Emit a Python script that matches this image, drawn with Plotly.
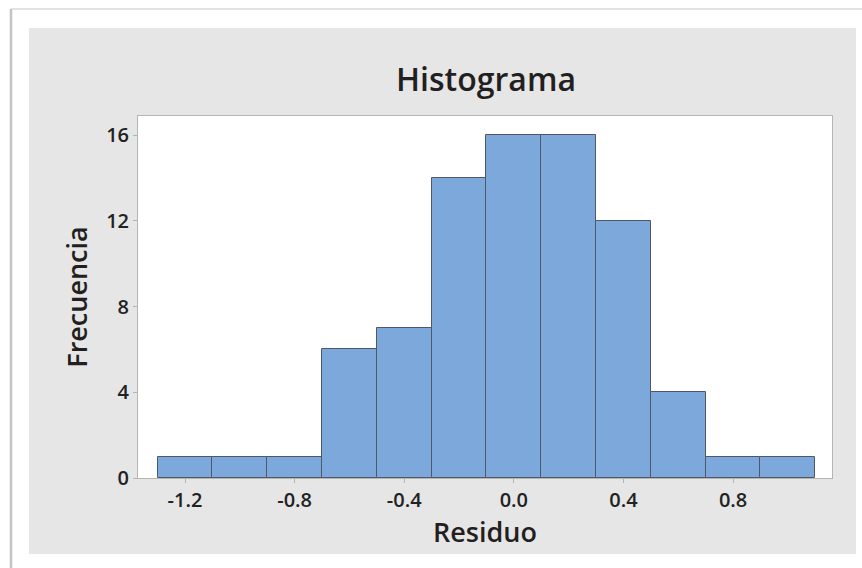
import plotly.graph_objects as go

# Data
bin_centers = [-1.2, -1.0, -0.8, -0.6, -0.4, -0.2, 0.0, 0.2, 0.4, 0.6, 0.8, 1.0]
frequencies = [1, 1, 1, 6, 7, 14, 16, 16, 12, 4, 1, 1]
bin_width = 0.2
x_tick_vals = [-1.2, -0.8, -0.4, 0.0, 0.4, 0.8]
x_tick_text = ["-1.2", "-0.8", "-0.4", "0.0", "0.4", "0.8"]
y_tick_vals = [0, 4, 8, 12, 16]
y_tick_text = ["0", "4", "8", "12", "16"]

W, H = 862, 568
L, R, T, B = 138, 832, 116, 478  # plot area in pixels


def px(x):
    return (x - L) / (R - L)


def py(y):
    return (B - y) / (B - T)


FONT = "Open Sans"
TXT = "#231f20"
GRID_LINE = "#b4b4b4"

fig = go.Figure()
fig.add_trace(go.Bar(
    x=bin_centers, y=frequencies, width=bin_width,
    marker=dict(color="#7ca8dc", line=dict(color="#505866", width=1)),
    hoverinfo="x+y",
))

shapes = [
    # outer frame lines
    dict(type="line", xref="paper", yref="paper", x0=px(11), x1=px(870), y0=py(9), y1=py(9),
         line=dict(color="#e2e2e2", width=2), layer="below"),
    dict(type="line", xref="paper", yref="paper", x0=px(11), x1=px(11), y0=py(9), y1=py(575),
         line=dict(color="#c4c4c4", width=2.5), layer="below"),
    # gray panel
    dict(type="rect", xref="paper", yref="paper", x0=px(29), x1=px(856), y0=py(554), y1=py(28),
         fillcolor="#e6e6e6", line=dict(width=0), layer="below"),
    # white plot area
    dict(type="rect", xref="paper", yref="paper", x0=0, x1=1, y0=0, y1=1,
         fillcolor="white", line=dict(width=0), layer="below"),
]

fig.update_layout(
    width=W, height=H,
    margin=dict(l=L, r=W - R, t=T, b=H - B, pad=0),
    paper_bgcolor="white", plot_bgcolor="white",
    shapes=shapes,
    showlegend=False,
    bargap=0,
    title=dict(text="Histograma", x=px(486), xanchor="center", xref="paper",
               y=1 - 80 / H, yanchor="middle", yref="container",
               font=dict(family=FONT, size=32, color=TXT, weight=600)),
    font=dict(family=FONT, color=TXT),
)

fig.update_xaxes(
    range=[-1.3715, 1.161], tickvals=x_tick_vals, ticktext=x_tick_text,
    ticks="outside", ticklen=4, tickcolor=GRID_LINE, tickwidth=1,
    showline=True, linecolor=GRID_LINE, linewidth=1, mirror=True,
    showgrid=False, zeroline=False,
    tickfont=dict(family=FONT, size=20, color="#222222", weight=600),
    title=dict(text="Residuo", standoff=6,
               font=dict(family=FONT, size=27, color=TXT, weight=600)),
)
fig.update_yaxes(
    range=[0, 16.9], tickvals=y_tick_vals, ticktext=y_tick_text,
    ticks="outside", ticklen=4, tickcolor=GRID_LINE, tickwidth=1,
    showline=True, linecolor=GRID_LINE, linewidth=1, mirror=True,
    showgrid=False, zeroline=False,
    tickfont=dict(family=FONT, size=20, color="#222222", weight=600),
    title=dict(text="Frecuencia", standoff=10,
               font=dict(family=FONT, size=27, color=TXT, weight=600)),
)

fig.write_html(
    "out.html",
    config={"displayModeBar": False},
    post_script="document.body.style.margin='0';document.body.style.padding='0';",
)
